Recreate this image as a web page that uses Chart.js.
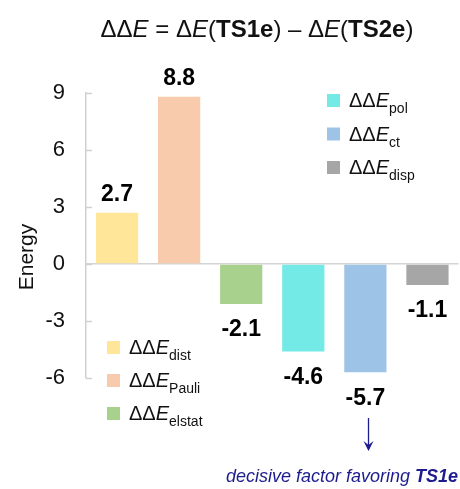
<!DOCTYPE html>
<html>
<head>
<meta charset="utf-8">
<script src="https://cdn.jsdelivr.net/npm/chart.js@4.4.1/dist/chart.umd.min.js"></script>
<style>
  html, body { margin: 0; padding: 0; background: #fff; }
  canvas { display: block; }
</style>
</head>
<body>
<canvas id="grafico" width="460" height="489"></canvas>
<script>
// dados do gráfico
const categorias = ['dist', 'Pauli', 'elstat', 'pol', 'ct', 'disp'];
const valores = [2.7, 8.8, -2.1, -4.6, -5.7, -1.1];
const rotulos = ['2.7', '8.8', '-2.1', '-4.6', '-5.7', '-1.1'];
const cores = ['#FFE699', '#F8CBAD', '#A9D18E', '#74EAE6', '#9DC3E6', '#A6A6A6'];
const ticksY = [-6, -3, 0, 3, 6, 9];
const legendaEsq = [0, 1, 2];
const legendaDir = [3, 4, 5];

const FONTE = "'Liberation Sans', Arial, sans-serif";
const AZUL = '#1c1c8f';

// desenha texto com partes de estilos diferentes (itálico, negrito, subscrito)
function larguraRica(ctx, partes) {
  let w = 0;
  partes.forEach(p => { ctx.font = p.f; w += ctx.measureText(p.t).width; });
  return w;
}
function textoRico(ctx, partes, x, y) {
  let cx = x;
  partes.forEach(p => {
    ctx.font = p.f;
    ctx.fillText(p.t, cx, y + (p.dy || 0));
    cx += ctx.measureText(p.t).width;
  });
}

function partesLegenda(sub) {
  return [
    { t: 'ΔΔ', f: `20px ${FONTE}` },
    { t: 'E', f: `italic 20px ${FONTE}` },
    { t: sub, f: `14px ${FONTE}`, dy: 6 }
  ];
}

const extras = {
  id: 'extras',
  afterDraw(chart) {
    const ctx = chart.ctx;
    const area = chart.chartArea;
    const y = chart.scales.y;
    const meta = chart.getDatasetMeta(0);
    ctx.save();

    // marcas dos ticks para dentro
    ctx.strokeStyle = '#d0d0d0';
    ctx.lineWidth = 1.5;
    ticksY.forEach(v => {
      const py = Math.round(y.getPixelForValue(v)) + 0.5;
      ctx.beginPath();
      ctx.moveTo(area.left, py);
      ctx.lineTo(area.left + 6, py);
      ctx.stroke();
    });

    // título
    ctx.fillStyle = '#111';
    ctx.textBaseline = 'alphabetic';
    const titulo = [
      { t: 'ΔΔ', f: `24px ${FONTE}` },
      { t: 'E', f: `italic 24px ${FONTE}` },
      { t: ' = Δ', f: `24px ${FONTE}` },
      { t: 'E', f: `italic 24px ${FONTE}` },
      { t: '(', f: `24px ${FONTE}` },
      { t: 'TS1e', f: `bold 24px ${FONTE}` },
      { t: ') – Δ', f: `24px ${FONTE}` },
      { t: 'E', f: `italic 24px ${FONTE}` },
      { t: '(', f: `24px ${FONTE}` },
      { t: 'TS2e', f: `bold 24px ${FONTE}` },
      { t: ')', f: `24px ${FONTE}` }
    ];
    const wt = larguraRica(ctx, titulo);
    textoRico(ctx, titulo, 257 - wt / 2, 37);

    // título do eixo
    ctx.save();
    ctx.translate(33, 257);
    ctx.rotate(-Math.PI / 2);
    ctx.font = `21px ${FONTE}`;
    ctx.textAlign = 'center';
    ctx.fillText('Energy', 0, 0);
    ctx.restore();

    // rótulos dos valores
    ctx.font = `bold 23px ${FONTE}`;
    ctx.textAlign = 'center';
    ctx.textBaseline = 'middle';
    ctx.fillStyle = '#000';
    meta.data.forEach((bar, i) => {
      const ty = valores[i] >= 0 ? bar.y - 18 : bar.y + 26;
      ctx.fillText(rotulos[i], bar.x, ty);
    });

    // legendas
    ctx.textAlign = 'left';
    ctx.textBaseline = 'alphabetic';
    const desenhaLegenda = (idx, x, y0, passo) => {
      idx.forEach((k, j) => {
        const sy = y0 + j * passo;
        ctx.fillStyle = cores[k];
        ctx.fillRect(x, sy, 13, 13);
        ctx.fillStyle = '#111';
        textoRico(ctx, partesLegenda(categorias[k]), x + 22, sy + 13);
      });
    };
    desenhaLegenda(legendaEsq, 107, 341, 33);
    desenhaLegenda(legendaDir, 327, 94, 33.5);

    // seta e fator decisivo
    const b5 = meta.data[4];
    const ax = Math.round(b5.x) + 3.5;
    ctx.strokeStyle = AZUL;
    ctx.fillStyle = AZUL;
    ctx.lineWidth = 1.3;
    ctx.beginPath();
    ctx.moveTo(ax, 418);
    ctx.lineTo(ax, 449);
    ctx.stroke();
    ctx.beginPath();
    ctx.moveTo(ax - 5, 441);
    ctx.lineTo(ax, 451);
    ctx.lineTo(ax + 5, 441);
    ctx.lineTo(ax, 445);
    ctx.closePath();
    ctx.fill();

    const nota = [
      { t: 'decisive factor favoring ', f: `italic 18px ${FONTE}` },
      { t: 'TS1e', f: `italic bold 18px ${FONTE}` }
    ];
    const wn = larguraRica(ctx, nota);
    textoRico(ctx, nota, 458 - wn, 482);

    ctx.restore();
  }
};

new Chart(document.getElementById('grafico'), {
  type: 'bar',
  data: {
    labels: categorias,
    datasets: [{
      data: valores,
      backgroundColor: cores,
      borderWidth: 0,
      barPercentage: 0.68,
      categoryPercentage: 1
    }]
  },
  options: {
    responsive: false,
    devicePixelRatio: 1,
    animation: false,
    layout: { padding: { top: 93, bottom: 111, left: 0, right: 1.5 } },
    plugins: { legend: { display: false }, tooltip: { enabled: false } },
    scales: {
      x: { display: false },
      y: {
        min: -6,
        max: 9,
        afterFit: s => { s.width = 86; },
        afterBuildTicks: s => { s.ticks = ticksY.map(v => ({ value: v })); },
        ticks: {
          padding: 21,
          color: '#111',
          font: { family: FONTE, size: 22 }
        },
        grid: {
          drawTicks: false,
          color: c => (c.tick && c.tick.value === 0 ? '#d4d4d4' : 'rgba(0,0,0,0)'),
          lineWidth: 1.5
        },
        border: { color: '#d0d0d0', width: 1.5 }
      }
    }
  },
  plugins: [extras]
});
</script>
</body>
</html>
